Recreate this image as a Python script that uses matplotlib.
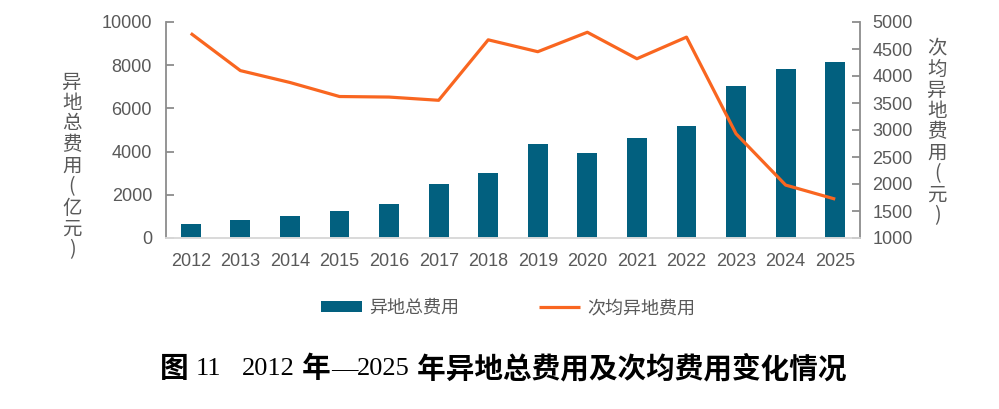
import matplotlib
matplotlib.use("Agg")
import matplotlib.pyplot as plt
import numpy as np

plt.rcParams['font.family'] = ['Liberation Sans', 'Noto Sans CJK SC', 'DejaVu Sans']

years = ['2012', '2013', '2014', '2015', '2016', '2017', '2018', '2019',
         '2020', '2021', '2022', '2023', '2024', '2025']
total_cost = [640, 840, 1010, 1240, 1580, 2520, 3030, 4340,
              3930, 4620, 5170, 7060, 7820, 8140]
avg_cost = [4790, 4100, 3880, 3620, 3610, 3550, 4670, 4450,
            4810, 4320, 4720, 2930, 1980, 1720]

left_label = '异地总费用(亿元)'
right_label = '次均异地费用(元)'
legend_labels = ['异地总费用', '次均异地费用']
title_parts = ['图 ', '11', '   ', '2012', ' 年', '—', '2025', ' 年异地总费用及次均费用变化情况']

W, H = 999, 409
fig = plt.figure(figsize=(W / 100, H / 100), dpi=100)
ax = fig.add_axes([166 / W, 1 - 238 / H, 694 / W, 216 / H])
ax2 = ax.twinx()

bar_color = '#02607F'
line_color = '#F96620'
grey = '#595959'
axis_grey = '#8C8C8C'

x = np.arange(len(years))
bars = ax.bar(x, total_cost, width=0.4, color=bar_color, zorder=2)
line, = ax2.plot(x, avg_cost, color=line_color, lw=2.3, solid_capstyle='butt')

ax.set_xlim(-0.5, len(years) - 0.5)
ax.set_ylim(0, 10000)
ax.set_yticks(np.arange(0, 10001, 2000))
ax2.set_ylim(1000, 5000)
ax2.set_yticks(np.arange(1000, 5001, 500))
ax.set_xticks(x)
ax.set_xticklabels(years)

for a in (ax, ax2):
    a.spines['top'].set_visible(False)
    a.spines['bottom'].set_color('#D9D9D9')
    a.spines['bottom'].set_linewidth(1.2)
    a.spines['left'].set_color(axis_grey)
    a.spines['right'].set_color(axis_grey)
    a.spines['left'].set_linewidth(1.3)
    a.spines['right'].set_linewidth(1.3)
ax.spines['right'].set_visible(False)
ax2.spines['left'].set_visible(False)

ax.tick_params(axis='y', direction='in', length=6, width=1.3, color=axis_grey,
               labelsize=13, labelcolor=grey, pad=10)
ax.tick_params(axis='x', length=0, labelsize=13, labelcolor=grey, pad=11)
ax2.tick_params(axis='y', direction='in', length=6, width=1.3, color=axis_grey,
                labelsize=13, labelcolor=grey, pad=9)

fig.text(72 / W, 1 - 166 / H, '\n'.join(left_label), ha='center', va='center',
         fontsize=14, color=grey, linespacing=1.0,
         family=['Noto Sans CJK SC', 'DejaVu Sans'])
fig.text(937 / W, 1 - 132 / H, '\n'.join(right_label), ha='center', va='center',
         fontsize=14, color=grey, linespacing=1.0,
         family=['Noto Sans CJK SC', 'DejaVu Sans'])

leg = fig.legend([bars, line], legend_labels, loc='center',
                 bbox_to_anchor=(508 / W, 1 - 308 / H), ncol=2, frameon=False,
                 handlelength=2.3, handleheight=0.6,
                 handletextpad=0.4, columnspacing=4.4,
                 prop={'family': ['Noto Sans CJK SC', 'DejaVu Sans'], 'size': 13})
for t in leg.get_texts():
    t.set_color(grey)

# Title: Latin digits/dash in regular serif, Chinese in bold sans
fig.canvas.draw()
renderer = fig.canvas.get_renderer()
texts = []
for part in title_parts:
    regular = part.strip().isdigit() or part == '—'
    if regular:
        t = fig.text(0, 1 - 369 / H, part, ha='left', va='center', fontsize=19,
                     color='black', family=['Liberation Serif'])
    else:
        t = fig.text(0, 1 - 369 / H, part, ha='left', va='center', fontsize=20.6,
                     fontweight='bold', color='black',
                     family=['Liberation Serif', 'Noto Sans CJK SC', 'DejaVu Sans'])
    texts.append(t)
widths = [t.get_window_extent(renderer).width for t in texts]
total = sum(widths)
xpos = 503 - total / 2
for t, w in zip(texts, widths):
    t.set_x(xpos / W)
    xpos += w

fig.savefig('out.png', dpi=100)
